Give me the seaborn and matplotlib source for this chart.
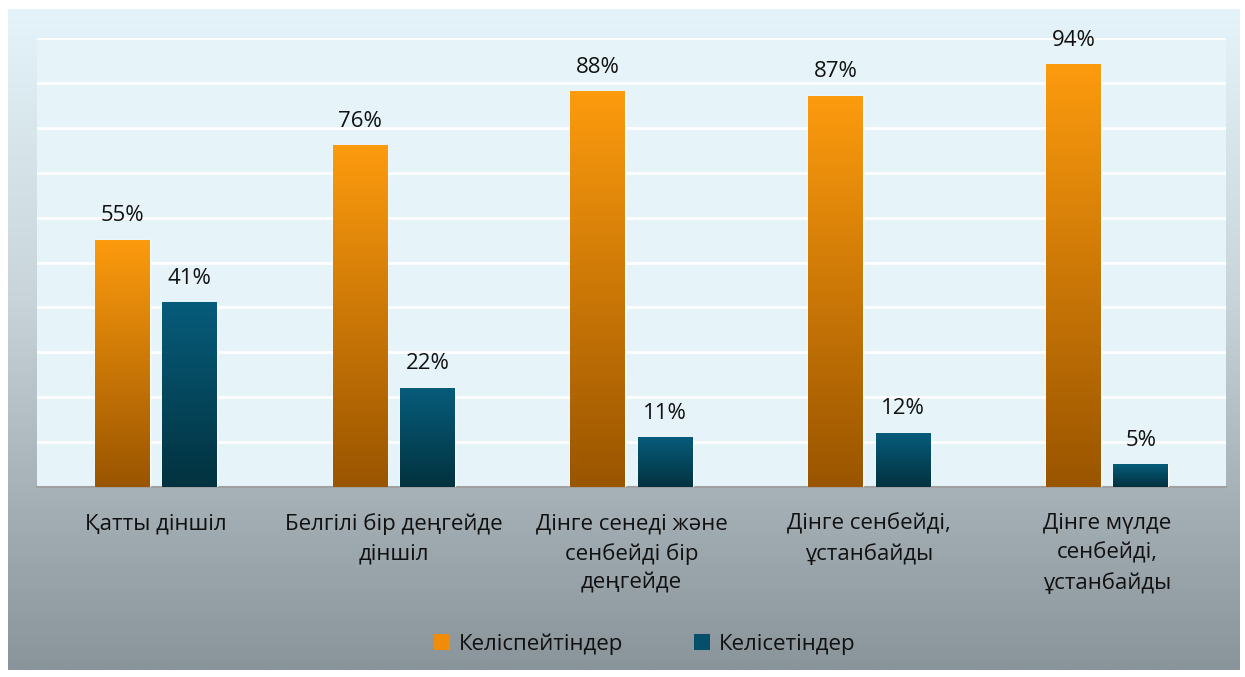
import matplotlib
matplotlib.use("Agg")
import matplotlib.pyplot as plt
import numpy as np
import pandas as pd
import seaborn as sns
from matplotlib.colors import LinearSegmentedColormap
from matplotlib.patches import Patch

CATEGORIES = [
    "Қатты діншіл",
    "Белгілі бір деңгейде\nдіншіл",
    "Дінге сенеді және\nсенбейді бір\nдеңгейде",
    "Дінге сенбейді,\nұстанбайды",
    "Дінге мүлде\nсенбейді,\nұстанбайды",
]
SERIES = ["Келіспейтіндер", "Келісетіндер"]
DISAGREE = [55, 76, 88, 87, 94]
AGREE = [41, 22, 11, 12, 5]

# top -> bottom colours of the bar gradients
GRAD = {
    "Келіспейтіндер": ("#fd9b0e", "#9a5500"),
    "Келісетіндер": ("#075c7b", "#02323f"),
}
LEGEND_COL = {"Келіспейтіндер": "#f08c0a", "Келісетіндер": "#064f6a"}
FS = 16


def vgrad(ax, extent, top, bottom, zorder):
    cmap = LinearSegmentedColormap.from_list("g", [top, bottom])
    img = np.linspace(0, 1, 256).reshape(-1, 1)
    ax.imshow(img, cmap=cmap, extent=extent, aspect="auto",
              origin="upper", zorder=zorder, interpolation="bilinear")


df = pd.DataFrame({
    "cat": CATEGORIES * 2,
    "series": [SERIES[0]] * len(CATEGORIES) + [SERIES[1]] * len(CATEGORIES),
    "value": DISAGREE + AGREE,
})

sns.set_theme(style="white")
plt.rcParams["font.family"] = ["Open Sans", "DejaVu Sans"]

W, H = 1245, 677
fig = plt.figure(figsize=(W / 100, H / 100), dpi=100)
fig.patch.set_facecolor("white")

# chart background gradient
bg = fig.add_axes([8 / W, 1 - 670 / H, (1240 - 8) / W, (670 - 9) / H], zorder=0)
bg_cmap = LinearSegmentedColormap.from_list(
    "bg", [(0, "#e4f4fa"), (0.44, "#c8d4d9"), (0.745, "#a5b0b6"), (1, "#8a949b")])
bg.imshow(np.linspace(0, 1, 256).reshape(-1, 1), cmap=bg_cmap,
          aspect="auto", extent=[0, 1, 0, 1], origin="upper")
bg.set_axis_off()

ax = fig.add_axes([37 / W, 1 - 487 / H, (1226 - 37) / W, (487 - 38) / H], zorder=1)
ax.set_facecolor("#e6f4fa")

sns.barplot(data=df, x="cat", y="value", hue="series", hue_order=SERIES,
            palette=[LEGEND_COL[s] for s in SERIES], width=0.567, gap=0.185,
            ax=ax, legend=False, zorder=3)

for cont, s in zip(ax.containers, SERIES):
    for bar in cont:
        x0, y0 = bar.get_x(), bar.get_y()
        w, h = bar.get_width(), bar.get_height()
        vgrad(ax, [x0, x0 + w, y0, y0 + h], GRAD[s][0], GRAD[s][1], 4)
    ax.bar_label(cont, labels=[f"{v:.0f}%" for v in cont.datavalues],
                 padding=10, fontsize=FS, color="#111111")

ax.set_xlim(-0.5, len(CATEGORIES) - 0.5)
ax.set_ylim(0, 100)
ax.set_yticks(np.arange(0, 101, 10))
ax.yaxis.grid(True, color="white", lw=2)
ax.set_axisbelow(True)
ax.tick_params(axis="y", left=False, labelleft=False)
ax.tick_params(axis="x", bottom=False, labelsize=FS, colors="#111111", pad=13)
for t in ax.get_xticklabels():
    t.set_linespacing(1.5)
    t.set_verticalalignment("top")
ax.set_xlabel("")
ax.set_ylabel("")
for sp in ["top", "left", "right"]:
    ax.spines[sp].set_visible(False)
ax.spines["bottom"].set_color("#a0a0a0")
ax.spines["bottom"].set_linewidth(1.5)

handles = [Patch(facecolor=LEGEND_COL[s], edgecolor="none", label=s) for s in SERIES]
fig.legend(handles=handles, loc="center", bbox_to_anchor=(0.518, 1 - 644 / H),
           ncol=2, frameon=False, fontsize=FS, handlelength=0.7,
           handleheight=0.7, handletextpad=0.4, columnspacing=3.2,
           labelcolor="#111111")

fig.savefig("out.png", dpi=100)
